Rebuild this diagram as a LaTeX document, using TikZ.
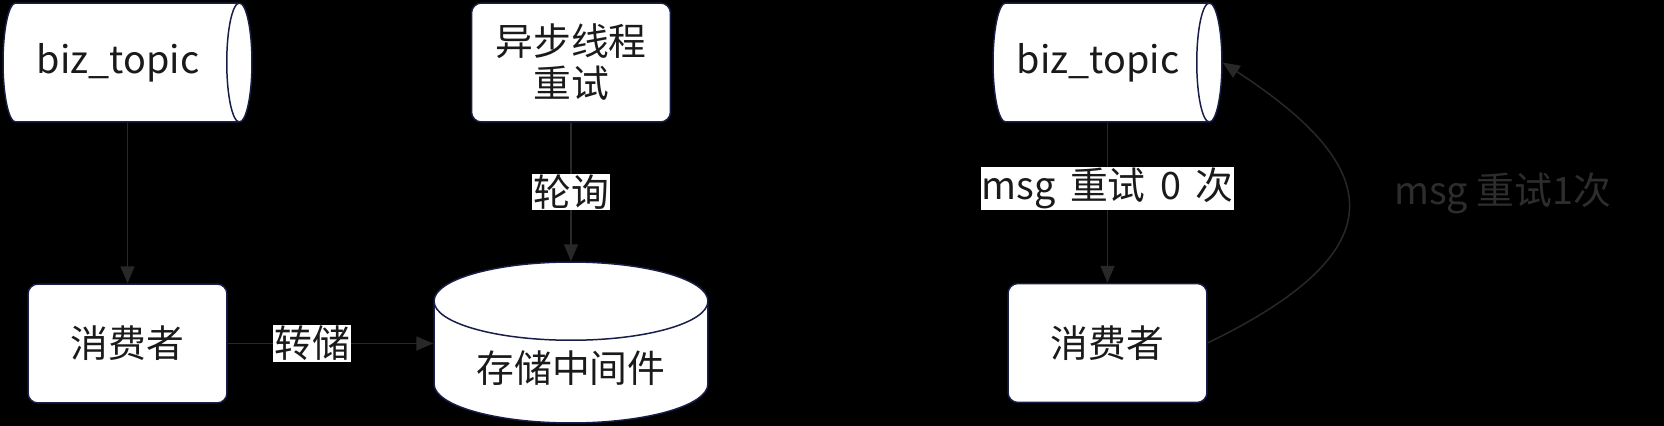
\documentclass[tikz,border=0pt]{standalone}
\usepackage{fontspec}
\setmainfont{Noto Sans CJK SC}
\usepackage{tikz}
\usetikzlibrary{arrows.meta,shapes.geometric}

\definecolor{edgegray}{RGB}{40,40,40}
\definecolor{boxline}{RGB}{24,30,72}
\definecolor{inkgray}{RGB}{26,26,26}
\definecolor{faintgray}{RGB}{45,45,45}

\tikzset{
  box/.style={draw=boxline, fill=white, line width=0.85pt, rounded corners=0.2cm,
    minimum width=3.98cm, minimum height=2.38cm, text=inkgray, align=center},
  topic/.style={cylinder, anchor=shape center, draw=boxline, fill=white,
    line width=0.85pt, shape aspect=0.5, minimum width=2.38cm, text=inkgray},
  store/.style={cylinder, anchor=shape center, shape border rotate=90,
    draw=boxline, fill=white, line width=0.85pt, shape aspect=0.39,
    minimum height=3.22cm, minimum width=5.48cm, text=inkgray},
  link/.style={draw=edgegray, line width=0.85pt,
    -{Triangle[length=0.34cm,width=0.28cm]}},
  tag/.style={fill=white, text=inkgray, inner sep=0.5pt}
}

\begin{document}
\begin{tikzpicture}[x=0.02cm, y=-0.02cm, font=\fontsize{21.5}{23.9}\selectfont]
    \useasboundingbox (0,0) rectangle (1664,426);
    \fill [black] (0,0) rectangle (1664,426);

    % left part
    \node [topic, minimum height=4.98cm] (topicA) at (127.5,62.5) {biz\_topic};
    \node [box] (consA) at (127.5,343.5) {消费者};
    \node [box] (retry) at (571,62.5) {异步线程\\重试};
    \node [store] (mq) at (571,342.5) {存储中间件};

    \draw [link] (topicA.south -| topicA.shape center) -- (consA.north);
    \draw [link] (consA.east) -- (consA.east -| mq.west)
        node [tag, pos=0.41] {转储};
    \draw [link] (retry.south) -- (mq.top)
        node [tag, midway] {轮询};

    % right part
    \node [topic, minimum height=4.58cm] (topicB) at (1107.5,62.5) {biz\_topic};
    \node [box] (consB) at (1107.5,343) {消费者};

    \draw [link] (topicB.south -| topicB.shape center) -- (consB.north)
        node [tag, pos=0.41] {msg\hspace{0.38em}重试\hspace{0.38em}0\hspace{0.38em}次};
    \draw [link] (consB.east) to [out=26, in=-33, looseness=1.85]
        node [text=faintgray, anchor=west, xshift=0.8cm, yshift=0.34cm] {msg 重试1次}
        (topicB.east);
\end{tikzpicture}
\end{document}
